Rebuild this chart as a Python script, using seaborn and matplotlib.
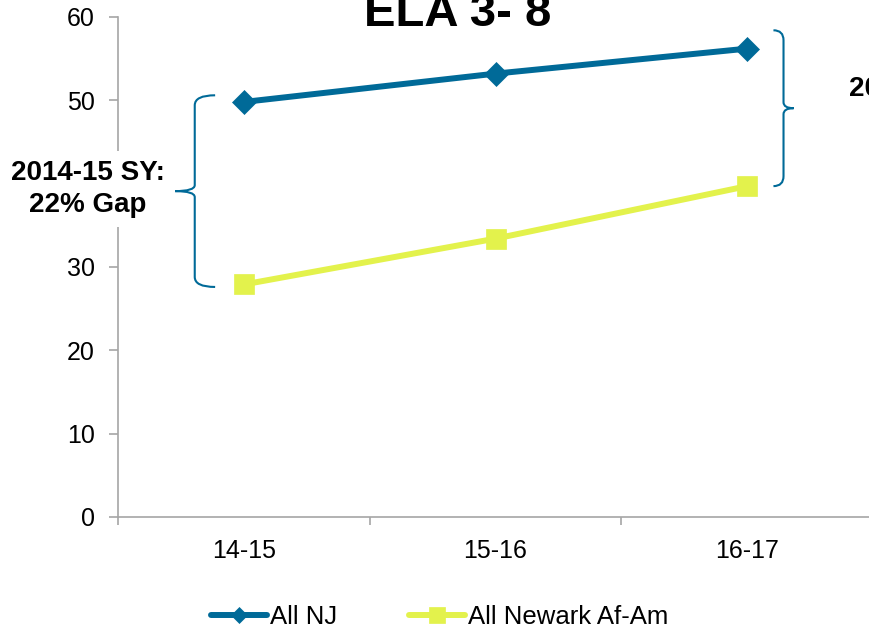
import pandas as pd
import matplotlib.pyplot as plt
import seaborn as sns
from matplotlib.path import Path
from matplotlib.patches import PathPatch

# Values (percent proficient, ELA grades 3-8)
years = ['14-15', '15-16', '16-17']
all_nj = [49.8, 53.2, 56.2]
newark_afam = [27.9, 33.4, 39.7]
series_names = ['All NJ', 'All Newark Af-Am']

BLUE = '#006A98'
YELLOW = '#E3F24C'
GRAY = '#A6A6A6'

df = pd.DataFrame({
    'year': years * 2,
    'score': all_nj + newark_afam,
    'group': [series_names[0]] * 3 + [series_names[1]] * 3,
})

sns.set_style('white')
plt.rcParams['font.family'] = ['Liberation Sans', 'DejaVu Sans']
plt.rcParams['text.color'] = 'black'
plt.rcParams['xtick.color'] = 'black'
plt.rcParams['ytick.color'] = 'black'

fig = plt.figure(figsize=(8.7, 6.3), dpi=100)
ax = fig.add_axes([0.1356, 0.1794, 0.868, 0.7937])

styles = {
    'All NJ': dict(color=BLUE, marker='D', markersize=12),
    'All Newark Af-Am': dict(color=YELLOW, marker='s', markersize=15),
}
for name in series_names:
    st = styles[name]
    sns.lineplot(data=df[df['group'] == name], x='year', y='score', ax=ax,
                 color=st['color'], marker=st['marker'], markersize=st['markersize'],
                 markeredgecolor=st['color'], markeredgewidth=0.5,
                 linewidth=4.3, label=name, legend=False)

# axes styling
ax.set_xlim(-0.5, 2.5)
ax.set_ylim(0, 60)
ax.set_yticks(range(0, 61, 10))
ax.set_xticks([0, 1, 2])
ax.set_xticklabels(years)
ax.set_xticks([-0.5, 0.5, 1.5, 2.5], minor=True)
ax.set_xlabel('')
ax.set_ylabel('')
for s in ['top', 'right']:
    ax.spines[s].set_visible(False)
for s in ['left', 'bottom']:
    ax.spines[s].set_color(GRAY)
    ax.spines[s].set_linewidth(1.2)
ax.tick_params(axis='y', which='major', left=True, direction='out', length=6.5, width=1.2,
               color=GRAY, labelcolor='black', labelsize=18, pad=10)
ax.tick_params(axis='x', which='major', bottom=True, length=0, labelcolor='black',
               labelsize=18, pad=16)
ax.tick_params(axis='x', which='minor', bottom=True, direction='out', length=6, width=1.2,
               color=GRAY)
ax.grid(False)

# title (partly cut off at the top)
fig.text(458 / 870, 1 - 26 / 630, 'ELA 3- 8', ha='center', va='baseline',
         fontsize=34, fontweight='bold', color='black')


def brace(ax, x_end, x_v, x_tip, y_top, y_bot, r=1.2):
    y_mid = (y_top + y_bot) / 2
    verts = [
        (x_end, y_top), (x_v, y_top), (x_v, y_top - r),
        (x_v, y_mid + r * 0.6), (x_v, y_mid), (x_tip, y_mid),
        (x_v, y_mid), (x_v, y_mid - r * 0.6),
        (x_v, y_bot + r), (x_v, y_bot), (x_end, y_bot),
    ]
    codes = [Path.MOVETO, Path.CURVE3, Path.CURVE3,
             Path.LINETO, Path.CURVE3, Path.CURVE3,
             Path.CURVE3, Path.CURVE3,
             Path.LINETO, Path.CURVE3, Path.CURVE3]
    patch = PathPatch(Path(verts, codes), facecolor='none', edgecolor=BLUE,
                      linewidth=1.5, clip_on=False)
    ax.add_patch(patch)


# gap braces
brace(ax, -0.114, -0.195, -0.273, 50.6, 27.6)
brace(ax, 2.104, 2.144, 2.184, 58.4, 39.7)

# gap labels
fig.text(88 / 870, 1 - 189 / 630, '2014-15 SY:\n22% Gap', ha='center', va='center',
         fontsize=20, fontweight='bold', multialignment='center', linespacing=1.35,
         color='black',
         bbox=dict(boxstyle='square,pad=0.3', facecolor='white', edgecolor='none'),
         zorder=5)
fig.text(849 / 870, 1 - 106 / 630, '2016-17 SY:\n16% Gap', ha='left', va='center',
         fontsize=20, fontweight='bold', multialignment='right', linespacing=1.35,
         color='black')

# legend at the bottom
handles, labels = ax.get_legend_handles_labels()
leg = fig.legend(handles, labels, loc='center', bbox_to_anchor=(0.505, 1 - 617 / 630),
                 ncol=2, frameon=False, fontsize=18.5, handlelength=2.2,
                 handletextpad=0.1, columnspacing=2.8)
for h, ms in zip(leg.legend_handles, [8.5, 11]):
    h.set_markersize(ms)

fig.savefig('out.png', dpi=100)
